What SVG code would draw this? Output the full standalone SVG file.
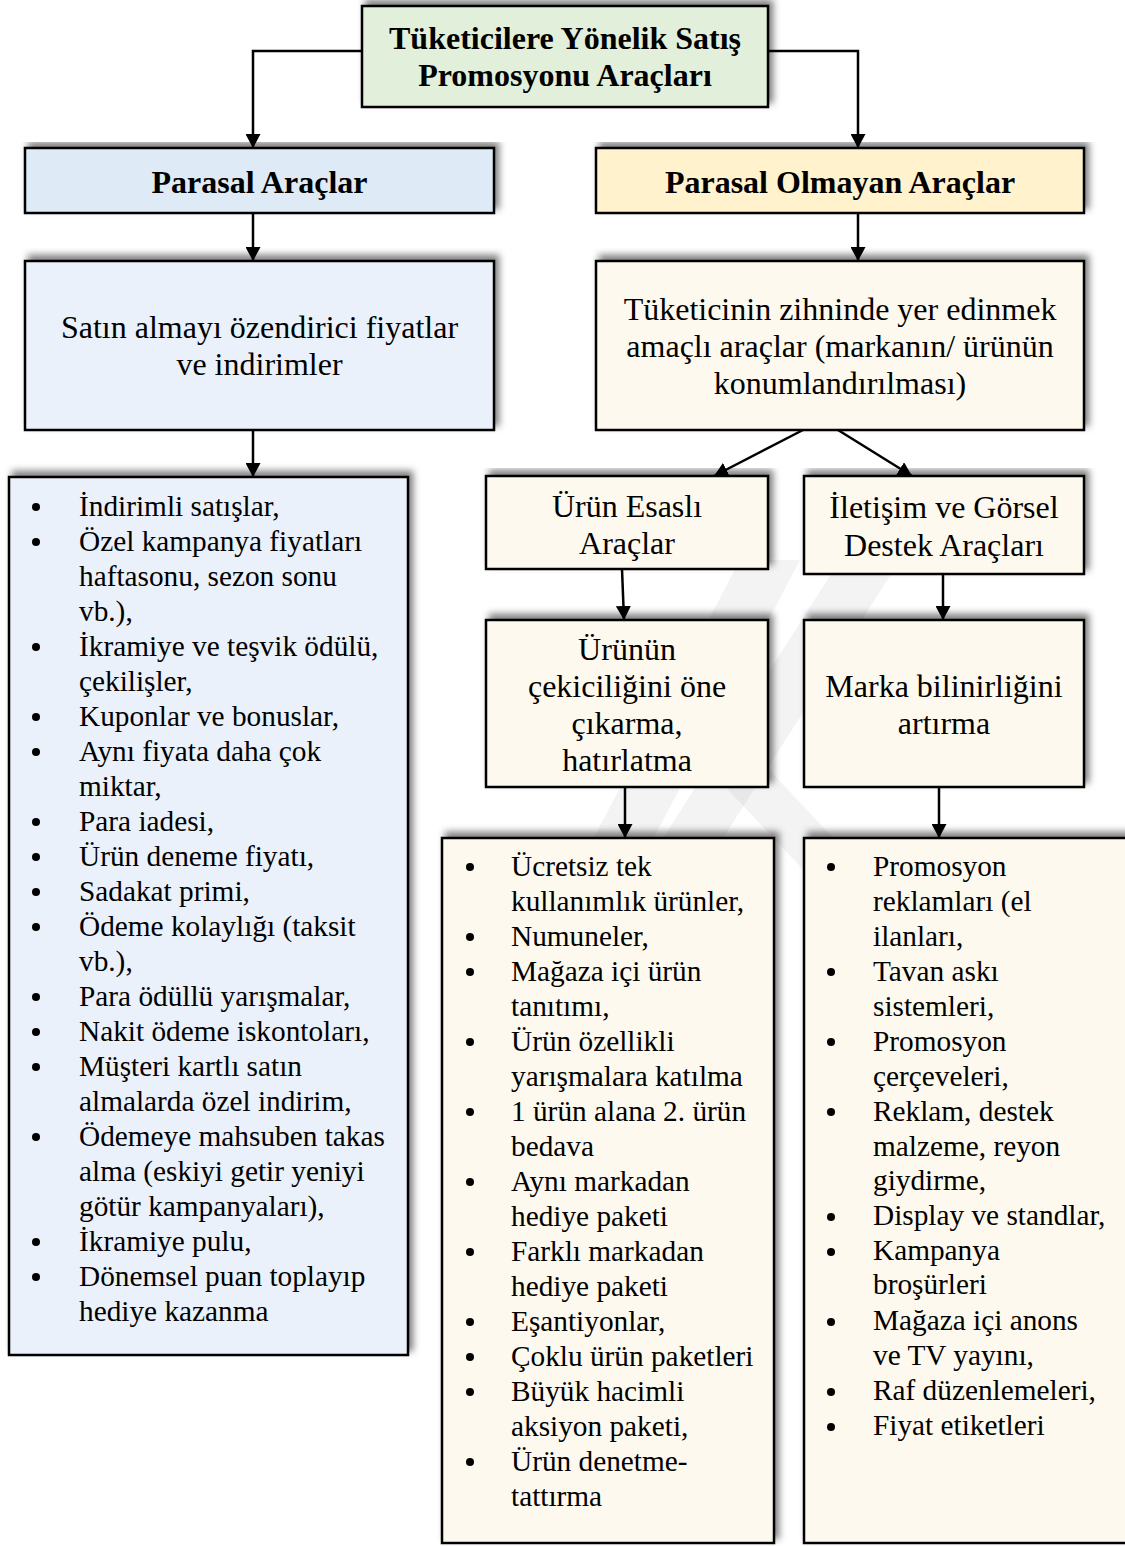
<svg xmlns="http://www.w3.org/2000/svg" width="1125" height="1546" viewBox="0 0 1125 1546">
  <defs>
    <filter id="shadow" x="-5%" y="-8%" width="112%" height="116%">
      <feDropShadow dx="4" dy="-5" stdDeviation="3.5" flood-color="#000" flood-opacity="0.5"/>
    </filter>
    <marker id="head" viewBox="0 0 14 15" refX="14" refY="7.5" markerWidth="14" markerHeight="15" markerUnits="userSpaceOnUse" orient="auto">
      <path d="M0,0 L14,7.5 L0,15 z" fill="#000"/>
    </marker>
  </defs>
  <style>
    .box { stroke: #000; stroke-width: 2.5; filter: url(#shadow); }
    .green { fill: #e2efda; }
    .blue { fill: #deebf7; }
    .paleblue { fill: #eaf1fa; }
    .gold { fill: #fff2cc; }
    .cream { fill: #fef9ee; }
    .head { font-family: "Liberation Serif", "Times New Roman", serif; font-weight: bold; font-size: 32px; fill: #000; text-anchor: middle; }
    .lbl { font-family: "Liberation Serif", "Times New Roman", serif; font-size: 32px; fill: #000; text-anchor: middle; }
    .item { font-family: "Liberation Serif", "Times New Roman", serif; font-size: 29.3px; fill: #000; }
    .dot { fill: #000; }
    .conn { stroke: #000; stroke-width: 2.5; fill: none; marker-end: url(#head); }
    .mark { fill: #8c8c8c; opacity: 0.1; }
  </style>

  <rect width="1125" height="1546" fill="#fff"/>

  <!-- faint background emblem -->
  <g id="emblem">
    <polygon class="mark" points="440,1130 500,1130 800,560 740,560"/>
    <polygon class="mark" points="560,1000 620,1000 900,560 840,560"/>
    <polygon class="mark" points="700,760 760,760 1080,1100 1020,1100"/>
  </g>

  <!-- connectors -->
  <g id="connectors">
    <path class="conn" d="M362,51 H253 V148"/>
    <path class="conn" d="M768,51 H858 V148"/>
    <path class="conn" d="M253,213 V261"/>
    <path class="conn" d="M253,430 V477"/>
    <path class="conn" d="M858,213 V261"/>
    <path class="conn" d="M803,430 L714,476"/>
    <path class="conn" d="M838,430 L912,476"/>
    <path class="conn" d="M622,569 L624,620"/>
    <path class="conn" d="M943,574 V620"/>
    <path class="conn" d="M625,787 V838"/>
    <path class="conn" d="M939,787 V838"/>
  </g>

  <!-- root -->
  <g id="root">
    <rect class="box green" x="362" y="6" width="406" height="101"/>
    <text class="head" x="565" y="49">Tüketicilere Yönelik Satış</text>
    <text class="head" x="565" y="86">Promosyonu Araçları</text>
  </g>

  <!-- monetary branch -->
  <g id="parasal">
    <rect class="box blue" x="25" y="148" width="469" height="65"/>
    <text class="head" x="259.5" y="193">Parasal Araçlar</text>
  </g>

  <g id="fiyatlar">
    <rect class="box paleblue" x="25" y="261" width="469" height="169"/>
    <text class="lbl" x="259.5" y="338">Satın almayı özendirici fiyatlar</text>
    <text class="lbl" x="259.5" y="375">ve indirimler</text>
  </g>

  <g id="parasal-liste">
    <rect class="box paleblue" x="9" y="477" width="399" height="878"/>
    <g class="dot">
      <circle cx="36" cy="507" r="4"/>
      <circle cx="36" cy="542" r="4"/>
      <circle cx="36" cy="647" r="4"/>
      <circle cx="36" cy="717" r="4"/>
      <circle cx="36" cy="752" r="4"/>
      <circle cx="36" cy="822" r="4"/>
      <circle cx="36" cy="857" r="4"/>
      <circle cx="36" cy="892" r="4"/>
      <circle cx="36" cy="927" r="4"/>
      <circle cx="36" cy="997" r="4"/>
      <circle cx="36" cy="1032" r="4"/>
      <circle cx="36" cy="1067" r="4"/>
      <circle cx="36" cy="1137" r="4"/>
      <circle cx="36" cy="1242" r="4"/>
      <circle cx="36" cy="1277" r="4"/>
    </g>
    <text class="item" x="79" y="516">İndirimli satışlar,</text>
    <text class="item" x="79" y="551">Özel kampanya fiyatları</text>
    <text class="item" x="79" y="586">haftasonu, sezon sonu</text>
    <text class="item" x="79" y="621">vb.),</text>
    <text class="item" x="79" y="656">İkramiye ve teşvik ödülü,</text>
    <text class="item" x="79" y="691">çekilişler,</text>
    <text class="item" x="79" y="726">Kuponlar ve bonuslar,</text>
    <text class="item" x="79" y="761">Aynı fiyata daha çok</text>
    <text class="item" x="79" y="796">miktar,</text>
    <text class="item" x="79" y="831">Para iadesi,</text>
    <text class="item" x="79" y="866">Ürün deneme fiyatı,</text>
    <text class="item" x="79" y="901">Sadakat primi,</text>
    <text class="item" x="79" y="936">Ödeme kolaylığı (taksit</text>
    <text class="item" x="79" y="971">vb.),</text>
    <text class="item" x="79" y="1006">Para ödüllü yarışmalar,</text>
    <text class="item" x="79" y="1041">Nakit ödeme iskontoları,</text>
    <text class="item" x="79" y="1076">Müşteri kartlı satın</text>
    <text class="item" x="79" y="1111">almalarda özel indirim,</text>
    <text class="item" x="79" y="1146">Ödemeye mahsuben takas</text>
    <text class="item" x="79" y="1181">alma (eskiyi getir yeniyi</text>
    <text class="item" x="79" y="1216">götür kampanyaları),</text>
    <text class="item" x="79" y="1251">İkramiye pulu,</text>
    <text class="item" x="79" y="1286">Dönemsel puan toplayıp</text>
    <text class="item" x="79" y="1321">hediye kazanma</text>
  </g>

  <!-- non-monetary branch -->
  <g id="parasal-olmayan">
    <rect class="box gold" x="596" y="148" width="488" height="65"/>
    <text class="head" x="840" y="193">Parasal Olmayan Araçlar</text>
  </g>

  <g id="konumlandirma">
    <rect class="box cream" x="596" y="261" width="488" height="169"/>
    <text class="lbl" x="840" y="320">Tüketicinin zihninde yer edinmek</text>
    <text class="lbl" x="840" y="357">amaçlı araçlar (markanın/ ürünün</text>
    <text class="lbl" x="840" y="394">konumlandırılması)</text>
  </g>

  <g id="urun-esasli">
    <rect class="box cream" x="486" y="476" width="282" height="93"/>
    <text class="lbl" x="627" y="517">Ürün Esaslı</text>
    <text class="lbl" x="627" y="554">Araçlar</text>
  </g>

  <g id="iletisim">
    <rect class="box cream" x="804" y="476" width="280" height="98"/>
    <text class="lbl" x="944" y="518">İletişim ve Görsel</text>
    <text class="lbl" x="944" y="556">Destek Araçları</text>
  </g>

  <g id="cekicilik">
    <rect class="box cream" x="486" y="620" width="282" height="167"/>
    <text class="lbl" x="627" y="660">Ürünün</text>
    <text class="lbl" x="627" y="697">çekiciliğini öne</text>
    <text class="lbl" x="627" y="734">çıkarma,</text>
    <text class="lbl" x="627" y="771">hatırlatma</text>
  </g>

  <g id="bilinirlik">
    <rect class="box cream" x="804" y="620" width="280" height="167"/>
    <text class="lbl" x="944" y="697">Marka bilinirliğini</text>
    <text class="lbl" x="944" y="734">artırma</text>
  </g>

  <g id="urun-liste">
    <rect class="box cream" x="442" y="838" width="332" height="705"/>
    <g class="dot">
      <circle cx="470" cy="867" r="4"/>
      <circle cx="470" cy="937" r="4"/>
      <circle cx="470" cy="972" r="4"/>
      <circle cx="470" cy="1042" r="4"/>
      <circle cx="470" cy="1112" r="4"/>
      <circle cx="470" cy="1182" r="4"/>
      <circle cx="470" cy="1252" r="4"/>
      <circle cx="470" cy="1322" r="4"/>
      <circle cx="470" cy="1357" r="4"/>
      <circle cx="470" cy="1392" r="4"/>
      <circle cx="470" cy="1462" r="4"/>
    </g>
    <text class="item" x="511" y="876">Ücretsiz tek</text>
    <text class="item" x="511" y="911">kullanımlık ürünler,</text>
    <text class="item" x="511" y="946">Numuneler,</text>
    <text class="item" x="511" y="981">Mağaza içi ürün</text>
    <text class="item" x="511" y="1016">tanıtımı,</text>
    <text class="item" x="511" y="1051">Ürün özellikli</text>
    <text class="item" x="511" y="1086">yarışmalara katılma</text>
    <text class="item" x="511" y="1121">1 ürün alana 2. ürün</text>
    <text class="item" x="511" y="1156">bedava</text>
    <text class="item" x="511" y="1191">Aynı markadan</text>
    <text class="item" x="511" y="1226">hediye paketi</text>
    <text class="item" x="511" y="1261">Farklı markadan</text>
    <text class="item" x="511" y="1296">hediye paketi</text>
    <text class="item" x="511" y="1331">Eşantiyonlar,</text>
    <text class="item" x="511" y="1366">Çoklu ürün paketleri</text>
    <text class="item" x="511" y="1401">Büyük hacimli</text>
    <text class="item" x="511" y="1436">aksiyon paketi,</text>
    <text class="item" x="511" y="1471">Ürün denetme-</text>
    <text class="item" x="511" y="1506">tattırma</text>
  </g>

  <g id="iletisim-liste">
    <rect class="box cream" x="804" y="838" width="330" height="705"/>
    <g class="dot">
      <circle cx="831" cy="867" r="4"/>
      <circle cx="831" cy="972" r="4"/>
      <circle cx="831" cy="1042" r="4"/>
      <circle cx="831" cy="1112" r="4"/>
      <circle cx="831" cy="1217" r="4"/>
      <circle cx="831" cy="1252" r="4"/>
      <circle cx="831" cy="1322" r="4"/>
      <circle cx="831" cy="1392" r="4"/>
      <circle cx="831" cy="1427" r="4"/>
    </g>
    <text class="item" x="873" y="876">Promosyon</text>
    <text class="item" x="873" y="911">reklamları (el</text>
    <text class="item" x="873" y="946">ilanları,</text>
    <text class="item" x="873" y="981">Tavan askı</text>
    <text class="item" x="873" y="1016">sistemleri,</text>
    <text class="item" x="873" y="1051">Promosyon</text>
    <text class="item" x="873" y="1086">çerçeveleri,</text>
    <text class="item" x="873" y="1121">Reklam, destek</text>
    <text class="item" x="873" y="1156">malzeme, reyon</text>
    <text class="item" x="873" y="1190">giydirme,</text>
    <text class="item" x="873" y="1225">Display ve standlar,</text>
    <text class="item" x="873" y="1260">Kampanya</text>
    <text class="item" x="873" y="1294">broşürleri</text>
    <text class="item" x="873" y="1330">Mağaza içi anons</text>
    <text class="item" x="873" y="1365">ve TV yayını,</text>
    <text class="item" x="873" y="1400">Raf düzenlemeleri,</text>
    <text class="item" x="873" y="1435">Fiyat etiketleri</text>
  </g>
</svg>
